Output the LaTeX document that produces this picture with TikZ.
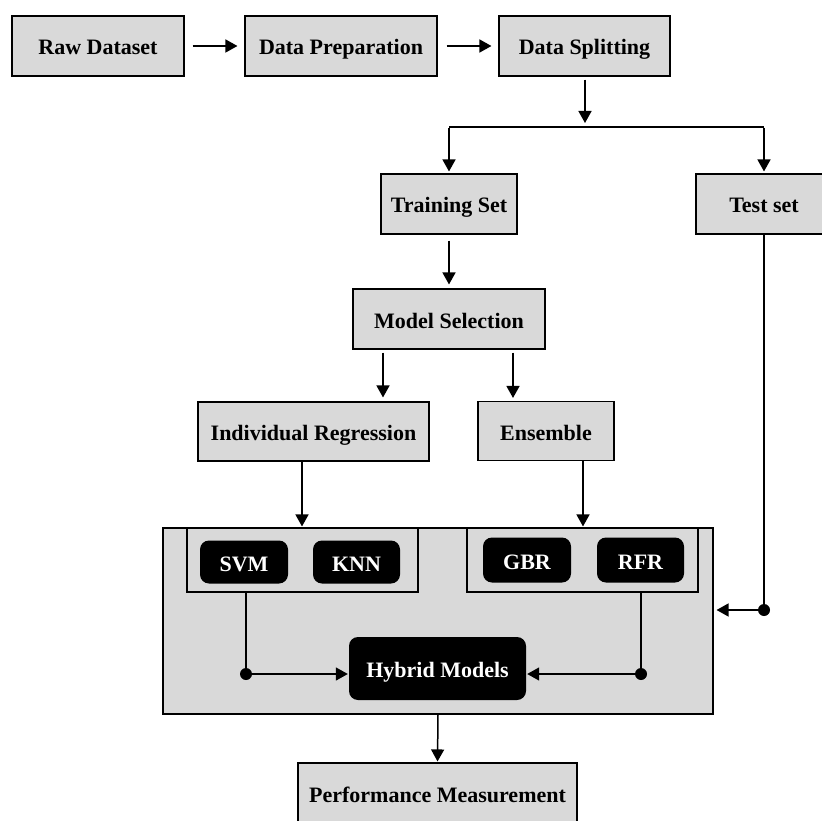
\documentclass[tikz,border=0pt]{standalone}
\usepackage{fontspec}
\setmainfont{Liberation Serif}
\usetikzlibrary{arrows.meta}
\definecolor{boxgray}{HTML}{D9D9D9}
\tikzset{
  gbox/.style={draw=black, line width=1.1pt, fill=boxgray, inner sep=0pt,
    font=\fontsize{22}{26}\selectfont\bfseries, align=center,
    text height=19pt, text depth=1pt},
  bbox/.style={fill=black, rounded corners=9pt, inner sep=0pt, text=white,
    font=\fontsize{22}{26}\selectfont\bfseries, text height=19pt, text depth=1pt},
  frame/.style={draw=black, line width=1.1pt, fill=boxgray, inner sep=0pt},
  conn/.style={line width=1.5pt},
  arr/.style={line width=1.5pt, -{Triangle[length=12pt,width=13pt]}},
  dotc/.style={circle, fill=black, inner sep=0pt, minimum size=12pt}
}
\begin{document}
\begin{tikzpicture}[x=1pt,y=-1pt]
\clip (0,0) rectangle (822,821);
\fill[white] (0,0) rectangle (822,821);
% top row
\node[gbox, minimum width=172pt, minimum height=60pt] (raw) at (98,46) {Raw Dataset};
\node[gbox, minimum width=192pt, minimum height=60pt] (prep) at (341,46) {Data Preparation};
\node[gbox, minimum width=171pt, minimum height=60pt] (split) at (584.5,46) {Data Splitting};
\draw[arr, shorten <=8pt, shorten >=7pt] (raw.east) -- (prep.west);
\draw[arr, shorten <=9pt, shorten >=7pt] (prep.east) -- (split.west);
% split
\node[gbox, minimum width=136pt, minimum height=60pt] (train) at (449,204) {Training Set};
\node[gbox, minimum width=136pt, minimum height=60pt] (test) at (764,204) {Test set};
\coordinate (jn) at (585,127);
\coordinate (jl) at (449,127);
\coordinate (jr) at (764,127);
\draw[arr, shorten <=3pt, shorten >=4pt] (split.south -| jn) -- (jn);
\draw[conn] (jl) -- (jr);
\draw[arr, shorten >=2pt] ([yshift=-0.7pt]jl) -- (train.north);
\draw[arr, shorten >=2pt] ([yshift=-0.7pt]jr) -- (test.north);
% model selection
\node[gbox, minimum width=192pt, minimum height=60pt] (msel) at (449,319) {Model Selection};
\draw[arr, shorten <=6pt, shorten >=4pt] (train.south) -- (msel.north);
\node[gbox, minimum width=231pt, minimum height=59pt] (indiv) at (313.5,431.5) {Individual Regression};
\node[gbox, minimum width=136pt, minimum height=59pt] (ens) at (546,431) {Ensemble};
\coordinate (ml) at (383,0);
\coordinate (mr) at (513,0);
\draw[arr, shorten <=3pt, shorten >=4pt] (msel.south -| ml) -- (indiv.north -| ml);
\draw[arr, shorten <=3pt, shorten >=3pt] (msel.south -| mr) -- (ens.north -| mr);
% big frame
\node[frame, minimum width=550pt, minimum height=186pt] (outer) at (438,621) {};
\node[frame, minimum width=231pt, minimum height=64pt] (inl) at (302.5,560) {};
\node[frame, minimum width=231pt, minimum height=64pt] (inr) at (582.5,560) {};
\node[bbox, minimum width=88pt, minimum height=43pt] (svm) at (244,562) {SVM};
\node[bbox, minimum width=87pt, minimum height=43pt] (knn) at (356.5,562) {KNN};
\node[bbox, minimum width=88pt, minimum height=45pt] (gbr) at (527,560) {GBR};
\node[bbox, minimum width=87pt, minimum height=45pt] (rfr) at (640.5,560) {RFR};
\node[bbox, minimum width=177pt, minimum height=63pt] (hyb) at (437.5,668.5) {Hybrid Models};
\coordinate (il) at (302,0);
\coordinate (ir) at (583,0);
\draw[arr, shorten >=1pt] (indiv.south -| il) -- (inl.north -| il);
\draw[arr, shorten >=1pt] (ens.south -| ir) -- (inr.north -| ir);
% to hybrid
\coordinate (dl) at (246,674);
\coordinate (dr) at (641,674);
\draw[conn] (inl.south -| dl) -- (dl);
\draw[conn] (inr.south -| dr) -- (dr);
\draw[arr, shorten >=1pt] (dl) -- (dl -| hyb.west);
\draw[arr, shorten >=1pt] (dr) -- (dr -| hyb.east);
\node[dotc] (dotl) at (dl) {};
\node[dotc] (dotr) at (dr) {};
% test set to frame
\coordinate (dt) at (764,610);
\draw[conn] (test.south) -- (dt);
\draw[arr, shorten >=3pt] (dt) -- (dt -| outer.east);
\node[dotc] (dott) at (dt) {};
% performance
\node[gbox, minimum width=279pt, minimum height=60pt] (perf) at (437.5,793) {Performance Measurement};
\draw[arr, shorten >=1pt] (outer.south) -- (perf.north);
\end{tikzpicture}
\end{document}
